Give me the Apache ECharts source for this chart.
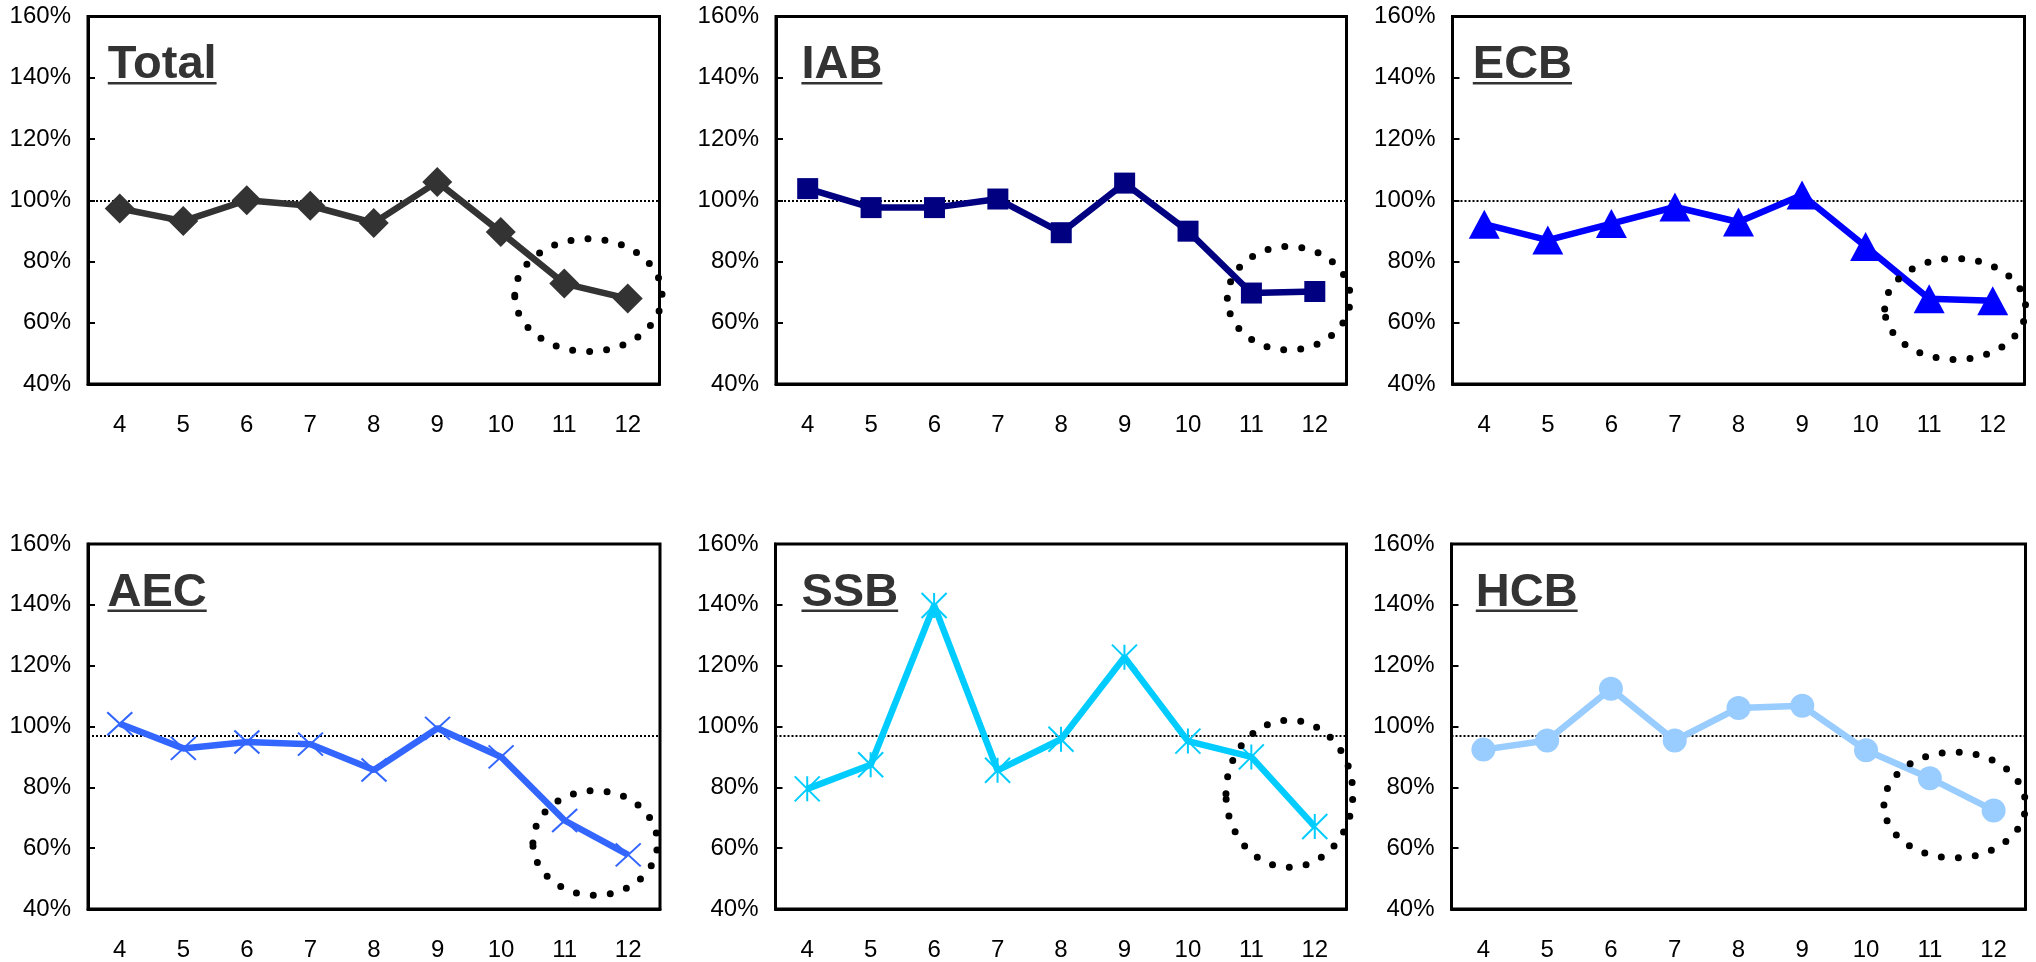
<!DOCTYPE html>
<html>
<head>
<meta charset="utf-8">
<script src="https://cdn.jsdelivr.net/npm/echarts@6/dist/echarts.min.js"></script>
<style>
html,body{margin:0;padding:0;background:#fff;}
#c{width:2036px;height:962px;}
</style>
</head>
<body>
<div id="c"></div>
<script>
// ---------- data ----------
const months = ['4', '5', '6', '7', '8', '9', '10', '11', '12'];
const panelNames = ['Total', 'IAB', 'ECB', 'AEC', 'SSB', 'HCB'];
const totalVals = [97.3, 93.2, 100.0, 98.2, 92.6, 106.0, 89.6, 72.8, 67.9];
const iabVals   = [103.8, 97.6, 97.6, 100.4, 89.4, 105.6, 89.9, 69.7, 70.2];
const ecbVals   = [92.2, 87.0, 92.4, 97.8, 92.9, 101.7, 84.9, 67.8, 67.2];
const aecVals   = [100.9, 92.8, 94.9, 94.2, 85.7, 99.4, 90.0, 69.1, 57.8];
const ssbVals   = [79.5, 87.4, 139.8, 85.6, 95.8, 122.8, 95.2, 90.0, 67.1];
const hcbVals   = [92.4, 95.4, 112.4, 95.4, 106.1, 106.8, 92.2, 83.0, 72.4];
const referenceLevels = [100, 100, 100, 97, 97, 97];
const yMin = 40, yMax = 160, yStep = 20;
// highlight ellipses: [centre category index, centre value, radius in categories, radius in value]
const ellipseTotal = [7.38, 69.0, 1.16, 18.4];
const ellipseIAB   = [7.59, 68.0, 0.97, 16.9];
const ellipseECB   = [7.41, 64.5, 1.11, 16.5];
const ellipseAEC   = [7.48, 61.7, 0.98, 17.2];
const ellipseSSB   = [7.60, 77.9, 1.00, 24.2];
const ellipseHCB   = [7.39, 74.2, 1.11, 17.4];

// ---------- layout / style ----------
const seriesValues = [totalVals, iabVals, ecbVals, aecVals, ssbVals, hcbVals];
const ellipses = [ellipseTotal, ellipseIAB, ellipseECB, ellipseAEC, ellipseSSB, ellipseHCB];
const gridRects = [
  [88, 16.5, 571.5, 367.5],
  [776, 16.5, 570.5, 367.5],
  [1452.5, 16.5, 572, 367.5],
  [88, 544, 572, 368.5],
  [775.5, 544, 571, 368.5],
  [1451.5, 544, 574, 368.5]
];
const titleOffsets = [19.8, 25.4, 20.3, 19.5, 26, 24.3];
const colors = ['#333333', '#000080', '#0000FF', '#3366FF', '#00CCFF', '#99CCFF'];
const symbols = [
  {symbol: 'diamond', size: 30, border: 0},
  {symbol: 'rect', size: 21, border: 0},
  {symbol: 'triangle', size: [31, 29], border: 0},
  {symbol: 'path://M0,0L24,22M24,0L0,22', size: [25, 23], border: 2},
  {symbol: 'path://M0,0L24,24M24,0L0,24M12,0L12,24', size: 25, border: 2},
  {symbol: 'circle', size: 24, border: 0}
];
const FONT = '"Liberation Sans", Arial, Helvetica, sans-serif';
const TITLE_FONT = 'bold 47px ' + FONT;

const measureCtx = document.createElement('canvas').getContext('2d');
measureCtx.font = TITLE_FONT;

const grids = [], xAxes = [], yAxes = [], series = [], graphics = [];
for (let i = 0; i < 6; i++) {
  const [l, t, w, h] = gridRects[i];
  grids.push({left: l, top: t, width: w, height: h, show: true, borderColor: '#000', borderWidth: 3, containLabel: false});
  xAxes.push({
    type: 'category', gridIndex: i, data: months, boundaryGap: true,
    axisLine: {lineStyle: {color: '#000', width: 3}},
    axisTick: {inside: true, length: 7, lineStyle: {color: '#000', width: 2}},
    axisLabel: {fontSize: 24, color: '#000', margin: 29, fontFamily: FONT},
    splitLine: {show: false}
  });
  yAxes.push({
    type: 'value', gridIndex: i, min: yMin, max: yMax, interval: yStep,
    axisLine: {show: true, lineStyle: {color: '#000', width: 3}},
    axisTick: {show: true, inside: true, length: 7, lineStyle: {color: '#000', width: 2}},
    axisLabel: {fontSize: 24, color: '#000', margin: 17, fontFamily: FONT, formatter: '{value}%', padding: [8, 0, 0, 0]},
    splitLine: {show: false}
  });
  const s = symbols[i];
  series.push({
    type: 'line', name: panelNames[i], xAxisIndex: i, yAxisIndex: i,
    data: seriesValues[i],
    symbol: s.symbol, symbolSize: s.size, showAllSymbol: true,
    lineStyle: {color: colors[i], width: 6.5},
    itemStyle: {color: colors[i], borderColor: colors[i], borderWidth: s.border},
    z: 5,
    markLine: {
      silent: true, symbol: ['none', 'none'], label: {show: false},
      lineStyle: {type: 'dotted', color: '#000', width: 2},
      data: [{yAxis: referenceLevels[i]}],
      z: 3
    }
  });
  series.push({
    type: 'custom', xAxisIndex: i, yAxisIndex: i, silent: true, clip: false, z: 10,
    encode: {x: 0, y: 1},
    data: [[0, ellipses[i][1], ellipses[i][0], ellipses[i][2], ellipses[i][3]]],
    renderItem: function (params, api) {
      const cy = api.value(1), cx = api.value(2), rx = api.value(3), ry = api.value(4);
      const a = api.coord([0, cy]);
      const b = api.coord([1, cy]);
      const topP = api.coord([0, cy + ry]);
      const step = b[0] - a[0];
      return {
        type: 'ellipse',
        shape: {cx: a[0] + cx * step, cy: a[1], rx: rx * step, ry: a[1] - topP[1]},
        style: {fill: 'none', stroke: '#000', lineWidth: 7, lineDash: [0, 17], lineCap: 'round'}
      };
    }
  });
  const tw = measureCtx.measureText(panelNames[i]).width;
  graphics.push({
    type: 'text', left: l + titleOffsets[i], top: t + 25.5, z: 20,
    style: {text: panelNames[i], font: TITLE_FONT, fill: '#333333'}
  });
  graphics.push({
    type: 'rect', z: 20,
    shape: {x: l + titleOffsets[i], y: t + 65.5, width: tw, height: 2.5},
    style: {fill: '#333333'}
  });
}

const chart = echarts.init(document.getElementById('c'), null, {renderer: 'canvas'});
chart.setOption({
  animation: false,
  backgroundColor: '#fff',
  grid: grids,
  xAxis: xAxes,
  yAxis: yAxes,
  series: series,
  graphic: graphics
});
</script>
</body>
</html>
